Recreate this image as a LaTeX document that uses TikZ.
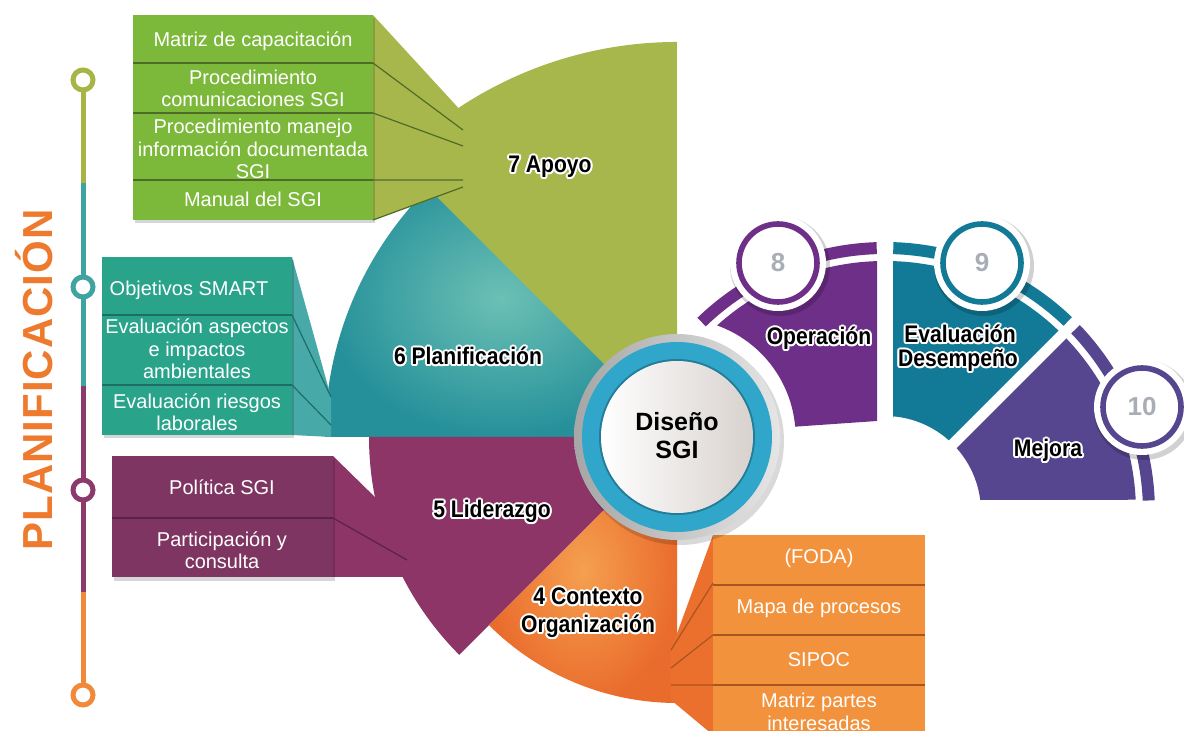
\documentclass[tikz,border=0pt]{standalone}
\usepackage{fontspec}
\setmainfont{Liberation Sans}
\newfontfamily\labfont[FakeStretch=0.88]{Liberation Sans}
\usetikzlibrary{calc}
\definecolor{gBox}{HTML}{7CB83A}
\definecolor{gSec}{HTML}{A7B74B}
\definecolor{gSep}{HTML}{4F6B28}
\definecolor{tBox}{HTML}{29A48B}
\definecolor{tSec}{HTML}{25909A}
\definecolor{tLight}{HTML}{6CC0B4}
\definecolor{tTrap}{HTML}{48AAA8}
\definecolor{tSep}{HTML}{1E6E66}
\definecolor{pBox}{HTML}{7E3561}
\definecolor{pSec}{HTML}{8E3568}
\definecolor{pSep}{HTML}{5A2244}
\definecolor{oBox}{HTML}{F2923C}
\definecolor{oSec}{HTML}{EA6C2C}
\definecolor{oLight}{HTML}{F5A050}
\definecolor{oSep}{HTML}{A8561F}
\definecolor{opC}{HTML}{6E2F88}
\definecolor{evC}{HTML}{127A96}
\definecolor{meC}{HTML}{56468F}
\definecolor{numC}{HTML}{A9AEB6}
\definecolor{ringBlue}{HTML}{30A6CB}
\definecolor{diskR}{HTML}{D8D2CE}
\definecolor{tlG}{HTML}{A6B545}
\definecolor{tlT}{HTML}{3FA39F}
\definecolor{tlP}{HTML}{8C3A6B}
\definecolor{tlO}{HTML}{F08A3A}
\definecolor{planO}{HTML}{EE7A2E}
\newcommand\lsp{\kern0.5pt}
\tikzset{
  boxtxt/.style={text=white,font=\fontsize{10}{11.2}\selectfont,align=center,inner sep=0pt},
  lbl/.style={font=\labfont\bfseries\fontsize{12}{13}\selectfont,inner sep=0pt,anchor=base,text=black},
  numtxt/.style={font=\bfseries\fontsize{13}{13}\selectfont,text=numC,inner sep=0pt},
  sepline/.style={line width=1.1pt},
  trapline/.style={line width=0.6pt},
  tlseg/.style={line width=2.5pt},
  tlcirc/.style={line width=2.5pt,fill=white},
  boxshadow/.style={fill=black,opacity=.16}
}
\newcommand\halolabel[3]{%
  \foreach \hang in {0,30,...,330}{%
    \node[lbl,text=white] at ($(#2)+(\hang:2)$) {#3};}%
  \node[lbl] (#1) at (#2) {#3};}
\begin{document}
\begin{tikzpicture}[x=0.5pt,y=-0.5pt]
\useasboundingbox (0,0) rectangle (1184,731);
\clip (0,0) rectangle (1184,731);
\fill[white] (0,0) rectangle (1184,731);
\coordinate (C) at (677,437);
\coordinate (O) at (885,512);

% ---------- 6 Planificacion (teal) ----------
\shade[inner color=tLight,outer color=tSec] (C) -- ($(C)+(-128:352)$) arc[start angle=-128,end angle=-180,radius=352] -- cycle;
\fill[tTrap] (292,257) -- (331,397) -- (331,437) -- (292,435) -- cycle;
\fill[boxshadow] (104,260) rectangle (294,438);
\fill[tBox] (102,257) rectangle (292,435);
\draw[tSep,sepline] (102,315) -- (292,315) (102,385) -- (292,385);
\draw[tSep,trapline] (292,315) -- (331,397) (292,385) -- (331,425);

% ---------- 5 Liderazgo (purple) ----------
\fill[pSec] (C) -- ($(C)+(-180:308)$) arc[start angle=-180,end angle=-225,radius=308] -- cycle;
\fill[pSec] (333,456) -- (380,502) -- (410,577) -- (333,577) -- cycle;
\fill[boxshadow] (114,459) rectangle (335,581);
\fill[pBox] (112,456) rectangle (333,577);
\draw[pSep,sepline] (112,518) -- (333,518);
\draw[pSep,trapline] (333,518) -- (407,560);

% ---------- 4 Contexto (orange) ----------
\shade[inner color=oLight,outer color=oSec] (C) -- ($(C)+(-225:266)$) arc[start angle=-225,end angle=-270,radius=266] -- cycle;
\fill[oSec!92!oBox] (713,535) -- (671,650) -- (671,700) -- (713,735) -- cycle;
\fill[oBox] (713,535) rectangle (925,740);
\draw[oSep,sepline] (713,585) -- (925,585) (713,635) -- (925,635) (713,685) -- (925,685);
\draw[oSep,trapline] (713,583) -- (671,650) (713,635) -- (671,668) (713,685) -- (671,685);

% ---------- 7 Apoyo (green) ----------
\fill[gSec] (373,15) -- (458.4,108) arc[start angle=-123.6,end angle=-90,radius=395] -- (C) -- (437,197) -- (373,220) -- cycle;
\fill[boxshadow] (135,18) rectangle (375,223);
\fill[gBox] (133,15) rectangle (373,220);
\draw[gSep,sepline] (133,63) -- (373,63) (133,113) -- (373,113) (133,180) -- (373,180);
\draw[gSep,trapline] (373,63) -- (463,130) (373,113) -- (463,146) (373,180) -- (463,180) (373,220) -- (463,187);

% ---------- box texts ----------
\node[boxtxt] (g1) at (253,41) {Matriz de capacitación};
\node[boxtxt] (g2) at (253,88.5) {Procedimiento\\comunicaciones SGI};
\node[boxtxt] (g3) at (253,149) {Procedimiento manejo\\información documentada\\SGI};
\node[boxtxt] (g4) at (253,199) {Manual del SGI};
\node[boxtxt] (t1) at (189,290) {Objetivos SMART};
\node[boxtxt] (t2) at (197,349) {Evaluación aspectos\\e impactos\\ambientales};
\node[boxtxt] (t3) at (197,412) {Evaluación riesgos\\laborales};
\node[boxtxt] (p1) at (222,487) {Política SGI};
\node[boxtxt] (p2) at (222,550) {Participación y\\consulta};
\node[boxtxt] (o1) at (819,558) {(FODA)};
\node[boxtxt] (o2) at (819,608) {Mapa de procesos};
\node[boxtxt] (o3) at (819,660) {SIPOC};
\node[boxtxt] (o4) at (819,712) {Matriz partes\\interesadas};

% ---------- centre circle ----------
\fill[black,opacity=.15] ($(C)+(3,4)$) circle[radius=104];
\shade[left color=black!35,right color=black!10] (C) circle[radius=103];
\fill[ringBlue] (C) circle[radius=95];
\draw[ringBlue!75!black,line width=1pt] (C) circle[radius=77];
\shade[left color=white,right color=diskR] (C) circle[radius=76];
\node[font=\bfseries\fontsize{12.5}{14}\selectfont,align=center,inner sep=0pt] (ctr) at (677,436) {Diseño\\SGI};

% ---------- right ring segments ----------
\fill[opC] ($(O)+(-91.8:270)$) arc[start angle=-91.8,end angle=-134,radius=270] -- ($(O)+(-134:258)$) arc[start angle=-134,end angle=-91.8,radius=258] -- cycle;
\fill[opC] (877,261.1) arc[start angle=-91.83,end angle=-132,radius=251] arc[start angle=-70.3,end angle=-5,radius=118.5] -- (877,421) -- cycle;
\fill[evC] ($(O)+(-88.2:270)$) arc[start angle=-88.2,end angle=-46.2,radius=270] -- ($(O)+(-46.2:258)$) arc[start angle=-46.2,end angle=-88.2,radius=258] -- cycle;
\fill[evC] (893,418) -- (893,261.1) arc[start angle=-88.17,end angle=-46.26,radius=251] -- ($(O)+(-48.3:96)$) arc[start angle=-48.3,end angle=-85,radius=96] -- cycle;
\fill[meC] ($(O)+(-43.8:270)$) arc[start angle=-43.8,end angle=-2.5,radius=270] -- ($(O)+(-2.5:258)$) arc[start angle=-2.5,end angle=-43.8,radius=258] -- cycle;
\fill[meC] ($(O)+(-43.74:251)$) arc[start angle=-43.74,end angle=-2.8,radius=251] -- (980.24,500) arc[start angle=-7.2,end angle=-41.7,radius=96] -- cycle;

% number circles
\coordinate (c8) at (778,263);
\coordinate (c9) at (982,263);
\coordinate (c10) at (1142,407);
\foreach \cc/\col in {c8/opC,c9/evC,c10/meC}{
  \fill[black,opacity=.18] ($(\cc)+(2,3)$) circle[radius=50];
  \fill[white] (\cc) circle[radius=48];
  \draw[\col,line width=2.8pt] (\cc) circle[radius=39];
}
\node[numtxt] (n8) at (c8) {8};
\node[numtxt] (n9) at (c9) {9};
\node[numtxt] (n10) at (c10) {10};

% ---------- timeline ----------
\draw[tlG,tlseg] (83,90) -- (83,183);
\draw[tlT,tlseg] (83,183) -- (83,386);
\draw[tlP,tlseg] (83,386) -- (83,592);
\draw[tlO,tlseg] (83,592) -- (83,685);
\draw[tlG,tlcirc] (83,80) circle[radius=10];
\draw[tlT,tlcirc] (83,287) circle[radius=10];
\draw[tlP,tlcirc] (83,490) circle[radius=10];
\draw[tlO,tlcirc] (83,695) circle[radius=10];
\node[rotate=90,anchor=base,text=planO,font=\bfseries\fontsize{21}{22}\selectfont,inner sep=0pt] (plan) at (53,380) {P\lsp L\lsp A\lsp N\lsp I\lsp F\lsp I\lsp C\lsp A\lsp C\lsp I\lsp Ó\lsp N};

% ---------- labels ----------
\halolabel{l7}{550,173}{7 Apoyo}
\halolabel{l6}{468,365}{6 Planificación}
\halolabel{l5}{492,518}{5 Liderazgo}
\halolabel{l4a}{588,605}{4 Contexto}
\halolabel{l4b}{588,633}{Organización}
\halolabel{l8}{819,345}{Operación}
\halolabel{l9a}{960,343}{Evaluación}
\halolabel{l9b}{958,367}{Desempeño}
\halolabel{l10}{1048,457}{Mejora}
\end{tikzpicture}
\end{document}
